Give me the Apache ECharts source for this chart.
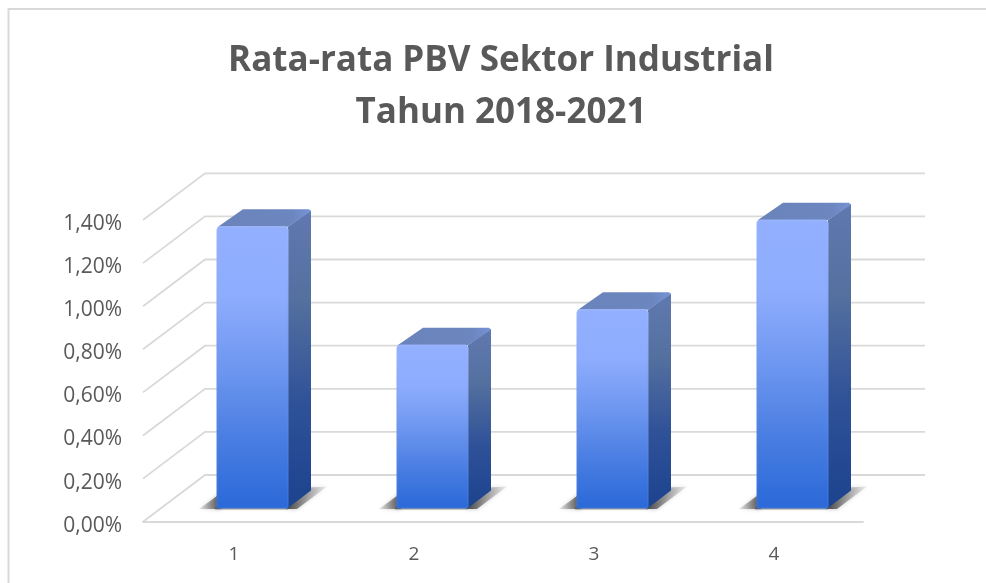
<!DOCTYPE html>
<html>
<head>
<meta charset="utf-8">
<style>
  html, body { margin: 0; padding: 0; background: #fff; }
  #chart { width: 986px; height: 583px; }
</style>
<script src="https://cdn.jsdelivr.net/npm/echarts@6/dist/echarts.min.js"></script>
</head>
<body>
<div id="chart"></div>
<script>
// data
var titleLines = ['Rata-rata PBV Sektor Industrial', 'Tahun 2018-2021'];
var categories = ['1', '2', '3', '4'];
var pbvValues = [1.305, 0.756, 0.92, 1.336];
var yTicks = [0, 0.2, 0.4, 0.6, 0.8, 1.0, 1.2, 1.4];

// 3d look, px
var WALL_DX = 62, WALL_DY = 46.7;      // depth of the floor
var BAR_DX = 23, BAR_DY = 17.4;        // depth of a bar
var BAR_SHIFT_X = 19.5, BAR_SHIFT_Y = 13.7;  // bar sits in the middle of the floor
var BAR_WIDTH = 71;

function grad(stops, x2, y2) {
  return new echarts.graphic.LinearGradient(0, 0, x2 || 0, y2 === undefined ? 1 : y2,
    stops.map(function (s) { return { offset: s[0], color: s[1] } }));
}

function renderWall(params, api) {
  var box = params.coordSys;
  var y = api.coord([0, api.value(1)])[1];
  var width = box.width;
  return {
    type: 'polyline',
    shape: { points: [[box.x, y], [box.x + WALL_DX, y - WALL_DY], [box.x + WALL_DX + width, y - WALL_DY]] },
    style: { stroke: '#d9d9d9', lineWidth: 1.8, fill: null },
    silent: true
  };
}

function renderBar(params, api) {
  var base = api.coord([api.value(0), 0]);
  var top = api.coord([api.value(0), api.value(1)]);
  var x0 = base[0] + BAR_SHIFT_X - BAR_WIDTH / 2;
  var x1 = x0 + BAR_WIDTH;
  var yb = base[1] - BAR_SHIFT_Y;
  var yt = top[1] - BAR_SHIFT_Y;
  return {
    type: 'group',
    children: [
      // shadow on the floor, left of the bar
      {
        type: 'polygon',
        shape: { points: [[x0 - 18, yb + 1], [x0 + 4, yb + 1], [x0 + 4, yb - 15]] },
        style: {
          fill: grad([[0, 'rgba(110,110,110,0.15)'], [1, 'rgba(60,60,60,0.9)']], 1, 0),
          shadowBlur: 4, shadowColor: 'rgba(90,90,90,0.5)'
        }
      },
      // shadow on the floor, right of the bar
      {
        type: 'polygon',
        shape: { points: [[x1 - 2, yb + 1], [x1 + BAR_DX - 2, yb - BAR_DY - 3], [x1 + BAR_DX + 16, yb - BAR_DY - 4], [x1 + 9, yb + 1]] },
        style: {
          fill: grad([[0, 'rgba(50,50,50,0.9)'], [1, 'rgba(150,150,150,0.15)']], 1, 0),
          shadowBlur: 4, shadowColor: 'rgba(90,90,90,0.5)'
        }
      },
      // thin shadow under the front face
      {
        type: 'rect',
        shape: { x: x0 - 2, y: yb - 1, width: BAR_WIDTH + 2, height: 2.5 },
        style: { fill: 'rgba(90,90,90,0.5)', shadowBlur: 2, shadowColor: 'rgba(90,90,90,0.4)' }
      },
      // side face
      {
        type: 'polygon',
        shape: { points: [[x1, yb], [x1, yt], [x1 + BAR_DX, yt - BAR_DY + 1], [x1 + BAR_DX, yb - BAR_DY]] },
        style: { fill: grad([[0, '#6079b0'], [0.3, '#54709f'], [0.65, '#2f5198'], [1, '#1c438e']]) }
      },
      // top face
      {
        type: 'polygon',
        shape: { points: [[x0 + 1, yt], [x0 + BAR_DX + 3, yt - BAR_DY], [x1 + BAR_DX - 2, yt - BAR_DY], [x1 + BAR_DX, yt - BAR_DY + 2], [x1, yt]] },
        style: { fill: grad([[0, '#6a83bb'], [0.8, '#6c86bf'], [1, '#7594d6']], 1, 0) }
      },
      // front face
      {
        type: 'rect',
        shape: { x: x0, y: yt, width: BAR_WIDTH, height: yb - yt, r: [3, 3, 1, 1] },
        style: {
          fill: grad([[0, '#93b0ff'], [0.25, '#8eacfd'], [0.5, '#6e97f0'], [0.75, '#4a7ee2'], [1, '#2a69d8']]),
          stroke: grad([[0, '#a0b8fb'], [0.4, '#7a9bec'], [1, '#3f74d6']]),
          lineWidth: 1
        }
      }
    ]
  };
}

var myChart = echarts.init(document.getElementById('chart'), null, { renderer: 'canvas' });
myChart.setOption({
  backgroundColor: '#ffffff',
  animation: false,
  title: {
    text: titleLines.join('\n'),
    left: 496,
    top: 30,
    textAlign: 'center',
    textStyle: {
      fontFamily: '"Open Sans"',
      fontSize: 35,
      fontWeight: 'bold',
      color: '#595959',
      lineHeight: 52
    }
  },
  grid: { left: 143, right: 123, top: 220, bottom: 61.3 },
  xAxis: {
    type: 'category',
    data: categories,
    axisLine: { show: true, lineStyle: { color: '#d9d9d9', width: 1.8 } },
    axisTick: { show: false },
    axisLabel: { margin: 23, padding: [0, 0, 0, 2], color: '#595959', fontFamily: '"Open Sans"', fontSize: 19 },
    splitLine: { show: false }
  },
  yAxis: {
    type: 'value',
    min: 0,
    max: 1.4,
    interval: 0.2,
    axisLine: { show: false },
    axisTick: { show: false },
    splitLine: { show: false },
    axisLabel: {
      margin: 21,
      verticalAlign: 'top',
      lineHeight: 8,
      color: '#595959',
      fontFamily: '"Open Sans"',
      fontSize: 21,
      formatter: function (value) {
        return value.toFixed(2).replace('.', ',') + '%';
      }
    }
  },
  graphic: [
    // chart area border, the picture only shows top and left of it
    {
      type: 'polyline',
      shape: { points: [[8.5, 583], [8.5, 9], [986, 9]] },
      style: { stroke: '#d9d9d9', lineWidth: 2, fill: null },
      silent: true,
      z: 0
    }
  ],
  series: [
    {
      name: 'walls',
      type: 'custom',
      renderItem: renderWall,
      data: yTicks.map(function (v) { return [0, v] }),
      clip: false,
      z: 1,
      silent: true
    },
    {
      name: 'PBV',
      type: 'custom',
      renderItem: renderBar,
      encode: { x: 0, y: 1 },
      data: pbvValues.map(function (v, i) { return [i, v] }),
      clip: false,
      z: 3,
      silent: true
    }
  ]
});
</script>
</body>
</html>
